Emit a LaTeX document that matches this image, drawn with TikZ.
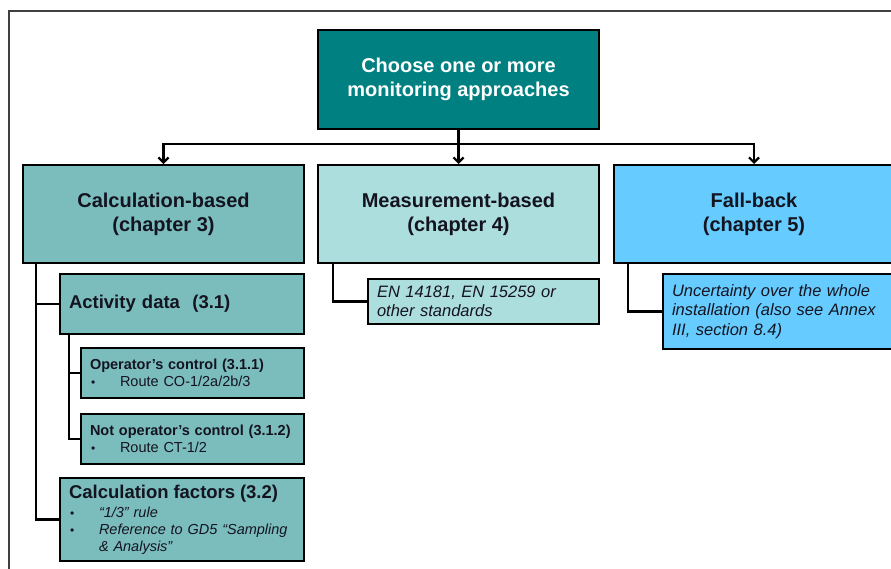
\documentclass[tikz,border=0pt]{standalone}
\usepackage{fontspec}
\setmainfont{Liberation Sans}
\usetikzlibrary{positioning, arrows.meta}
\definecolor{TealDark}{HTML}{008080}
\definecolor{TealMid}{HTML}{7BBDBD}
\definecolor{TealLight}{HTML}{ADDEDE}
\definecolor{SkyBlue}{HTML}{66CCFF}
\definecolor{InkDark}{HTML}{141420}
\newcommand{\bitem}{\makebox[30pt][l]{\hspace{1pt}{\fontsize{12}{12}\selectfont\upshape\textbullet}}}

\begin{document}
\begin{tikzpicture}[
    x=1pt, y=-1pt,
    box/.style={draw=black, line width=2pt, anchor=north west, inner xsep=9pt, inner ysep=0pt, text=InkDark},
    headbox/.style={box, align=center, minimum height=98pt, font=\fontsize{20}{24}\selectfont\bfseries},
    subbox/.style={box, align=left, font=\fontsize{16.5}{19.5}\selectfont\itshape},
    smallbox/.style={box, align=left, fill=TealMid, text width=205pt, minimum height=50pt, font=\fontsize{14.5}{17}\selectfont},
    link/.style={line width=2.2pt},
    arr/.style={link, -{Straight Barb[length=5pt,width=10pt]}}
]
    \useasboundingbox (0,0) rectangle (891,568);
    \clip (0,0) rectangle (891,568);

    % frame round the page
    \draw[line width=2pt, black!75] (9,600) -- (9,10.5) -- (920,10.5);

    % top level
    \node[headbox, fill=TealDark, text=white, minimum width=281pt, minimum height=99pt] (choose) at (317,29) {Choose one or more\\monitoring approaches};

    % the three approaches
    \node[headbox, fill=TealMid, minimum width=281pt] (calc) at (22,164) {Calculation-based\\(chapter 3)};
    \node[headbox, fill=TealLight, minimum width=281pt] (meas) at (317,164) {Measurement-based\\(chapter 4)};
    \node[headbox, fill=SkyBlue, minimum width=280pt] (fallback) at (613,164) {Fall-back\\(chapter 5)};

    \coordinate (bus) at (0,144);
    \foreach \target in {calc, meas, fallback}
        \draw[arr] (choose.south) -- (choose.south |- bus) -| (\target.north);

    % calculation-based branch
    \node[box, align=left, fill=TealMid, text width=226pt, minimum height=60pt, font=\fontsize{18.5}{22}\selectfont\bfseries] (activity) at (59,273) {Activity data~~(3.1)};
    \node[smallbox] (opctrl) at (80,347) {\textbf{Operator’s control (3.1.1)}\\\bitem Route CO-1/2a/2b/3};
    \node[smallbox] (notop) at (80,413) {\textbf{Not operator’s control (3.1.2)}\\\bitem Route CT-1/2};
    \node[box, align=left, fill=TealMid, text width=226pt, minimum height=83pt, font=\fontsize{14.5}{17}\selectfont\itshape] (factors) at (59,477)
        {{\fontsize{18.5}{22}\selectfont\bfseries\upshape Calculation factors (3.2)}\\[2pt]
         \bitem “1/3” rule\\
         \bitem Reference to GD5 “Sampling\\
         \hspace*{30pt}\& Analysis”};

    \draw[link] ([xshift=14pt]calc.south west) |- (activity.west);
    \draw[link] ([xshift=14pt]calc.south west) |- (factors.west);
    \draw[link] ([xshift=10pt]activity.south west) |- (opctrl.west);
    \draw[link] ([xshift=10pt]activity.south west) |- (notop.west);

    % measurement-based and fall-back branches
    \node[subbox, fill=TealLight, text width=213pt, minimum height=45pt] (standards) at (367,278) {EN 14181, EN 15259 or\\other standards};
    \node[subbox, fill=SkyBlue, text width=222pt, minimum height=75pt] (uncert) at (662,273) {Uncertainty over the whole\\installation (also see Annex\\\textit{III}, section 8.4)};

    \draw[link] ([xshift=16pt]meas.south west) |- (standards.west);
    \draw[link] ([xshift=15pt]fallback.south west) |- (uncert.west);
\end{tikzpicture}
\end{document}
